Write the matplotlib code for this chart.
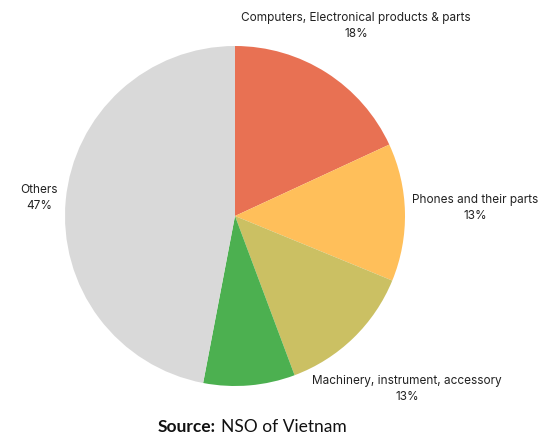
import matplotlib.pyplot as plt

# Export share by product group
categories = ["Computers, Electronical products & parts", "Phones and their parts",
              "Machinery, instrument, accessory", "", "Others"]
shares = [18.1, 13.1, 13.1, 8.7, 47.0]
pct_labels = ["18%", "13%", "13%", "", "47%"]
colors = ["#E87153", "#FFBF5A", "#CBC063", "#4CB050", "#D9D9D9"]

labels = []
for name, pct in zip(categories, pct_labels):
    labels.append(name + "\n" + pct if name else "")

fig = plt.figure(figsize=(5.5, 4.44), dpi=100)
ax = fig.add_axes([0, 0, 1, 1])
wedges, texts = ax.pie(shares, labels=labels, colors=colors, startangle=90,
                       counterclock=False, radius=170, center=(0, 0),
                       textprops={"family": "Inter", "fontsize": 8.5,
                                  "color": "#222222", "ha": "center",
                                  "va": "center", "linespacing": 1.5})
ax.set_xlim(-235, 315)
ax.set_ylim(-228, 216)
ax.set_aspect("equal")
ax.axis("off")

# put the labels where the original puts them
label_pos = [(121, 190), (240, 8), (172, -173), (0, 0), (-196, 18)]
for t, p in zip(texts, label_pos):
    t.set_position(p)
    t.set_ha("center")

fig.text(158 / 550, 0.038, "Source:", ha="left", va="center", fontsize=12.5,
         family="Lato", weight="bold", color="#111111")
fig.text(221 / 550, 0.038, "NSO of Vietnam", ha="left", va="center",
         fontsize=12.5, family="Lato", color="#111111")

fig.savefig("out.png", dpi=100)
